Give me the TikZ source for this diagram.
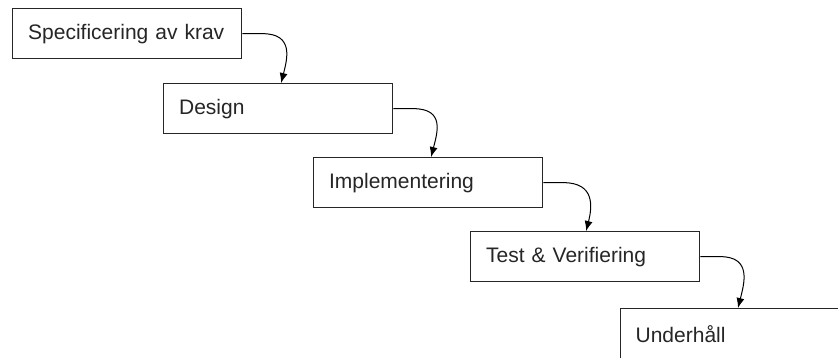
\documentclass[tikz,border=0pt]{standalone}
\usepackage{fontspec}
\setmainfont{Liberation Sans}
\usetikzlibrary{arrows.meta}

\tikzset{
  fas/.style={draw=black!85,line width=1.3pt,fill=white,anchor=north west,
    minimum width=229pt,minimum height=50pt,text width=198pt,inner xsep=15pt,
    align=left,font=\fontsize{21}{25}\selectfont,text=black!85},
  pil/.style={line width=1pt,-{Latex[length=10pt,width=8pt]}}
}

\begin{document}
\begin{tikzpicture}[x=1pt,y=-1pt]
        \clip (0,0) rectangle (838,357) ;
        \fill[white] (0,0) rectangle (838,357) ;
        % faserna
        \node[fas] (krav) at (12,8) {Specificering av krav} ;
        \node[fas] (design) at (163,83) {Design} ;
        \node[fas] (impl) at (313,157) {Implementering} ;
        \node[fas] (test) at (470,231) {Test \& Verifiering} ;
        \node[fas,text width=240pt] (underhall) at (620,308) {Underhåll} ;
        % pilarna
        \draw[pil] (krav.east) -- ++(20,0)
          .. controls +(32,0) and +(6,-24) .. ([xshift=3pt]design.north) ;
        \draw[pil] (design.east) -- ++(20,0)
          .. controls +(32,0) and +(6,-24) .. ([xshift=3pt]impl.north) ;
        \draw[pil] (impl.east) -- ++(20,0)
          .. controls +(32,0) and +(6,-24) .. ([xshift=1pt]test.north) ;
        \draw[pil] (test.east) -- ++(20,0)
          .. controls +(32,0) and +(6,-24) .. ([xshift=118pt]underhall.north west) ;
      \end{tikzpicture}
\end{document}
